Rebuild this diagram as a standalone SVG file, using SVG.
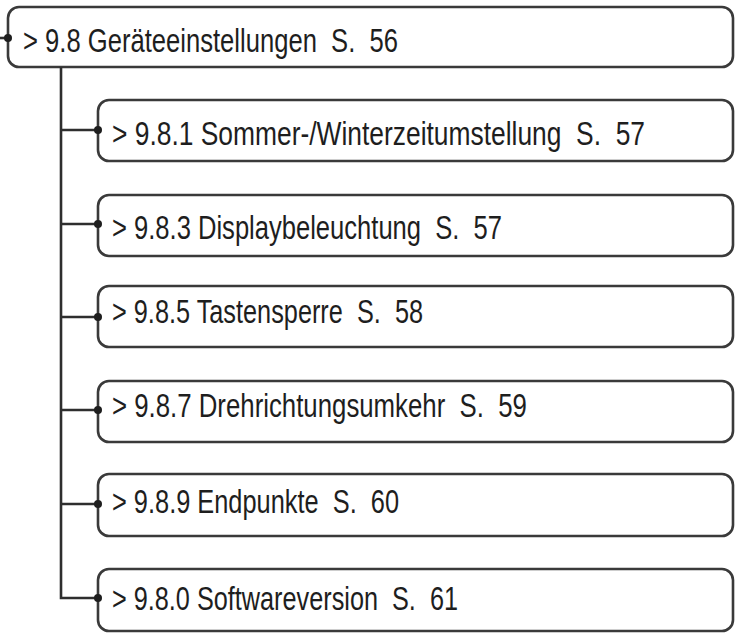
<svg xmlns="http://www.w3.org/2000/svg" width="740" height="634" viewBox="0 0 740 634">
<style>
.box{fill:#ffffff;stroke:#3a3a3a;stroke-width:2.6}
.lbl{font-family:"Liberation Sans","DejaVu Sans",sans-serif;font-size:33px;fill:#1e1e1e;white-space:pre}
.con{stroke:#2e2e2e;stroke-width:2.6;fill:none}
.dot{fill:#1e1e1e}
</style>
<rect width="740" height="634" fill="#ffffff"/>
<g id="n0">
<rect class="box" x="8" y="7" width="725" height="60" rx="11"/>
<text class="lbl" transform="translate(23,51.5) scale(0.75,1)" x="0" y="0" textLength="500" lengthAdjust="spacingAndGlyphs">&gt; 9.8 Geräteeinstellungen  S.  56</text>
</g>
<g id="n1">
<rect class="box" x="98" y="100" width="635" height="61" rx="11"/>
<text class="lbl" transform="translate(112,145) scale(0.75,1)" x="0" y="0" textLength="710.7" lengthAdjust="spacingAndGlyphs">&gt; 9.8.1 Sommer-/Winterzeitumstellung  S.  57</text>
</g>
<g id="n2">
<rect class="box" x="98" y="195" width="635" height="61" rx="11"/>
<text class="lbl" transform="translate(112,239) scale(0.75,1)" x="0" y="0" textLength="520" lengthAdjust="spacingAndGlyphs">&gt; 9.8.3 Displaybeleuchtung  S.  57</text>
</g>
<g id="n3">
<rect class="box" x="98" y="286" width="635" height="61" rx="11"/>
<text class="lbl" transform="translate(112,323) scale(0.75,1)" x="0" y="0" textLength="414.7" lengthAdjust="spacingAndGlyphs">&gt; 9.8.5 Tastensperre  S.  58</text>
</g>
<g id="n4">
<rect class="box" x="98" y="381" width="635" height="61" rx="11"/>
<text class="lbl" transform="translate(112,417) scale(0.75,1)" x="0" y="0" textLength="553.3" lengthAdjust="spacingAndGlyphs">&gt; 9.8.7 Drehrichtungsumkehr  S.  59</text>
</g>
<g id="n5">
<rect class="box" x="98" y="474" width="635" height="62" rx="11"/>
<text class="lbl" transform="translate(112,513) scale(0.75,1)" x="0" y="0" textLength="382.7" lengthAdjust="spacingAndGlyphs">&gt; 9.8.9 Endpunkte  S.  60</text>
</g>
<g id="n6">
<rect class="box" x="98" y="569" width="635" height="62" rx="11"/>
<text class="lbl" transform="translate(112,610) scale(0.75,1)" x="0" y="0" textLength="461.3" lengthAdjust="spacingAndGlyphs">&gt; 9.8.0 Softwareversion  S.  61</text>
</g>
<g id="connectors">
<line class="con" x1="0" y1="38" x2="8" y2="38"/>
<circle class="dot" cx="8" cy="38" r="4"/>
<polyline class="con" points="61,67 61,598 98,598"/>
<line class="con" x1="61" y1="130" x2="98" y2="130"/>
<line class="con" x1="61" y1="224" x2="98" y2="224"/>
<line class="con" x1="61" y1="317" x2="98" y2="317"/>
<line class="con" x1="61" y1="410" x2="98" y2="410"/>
<line class="con" x1="61" y1="504" x2="98" y2="504"/>
<circle class="dot" cx="98" cy="130" r="4"/>
<circle class="dot" cx="98" cy="224" r="4"/>
<circle class="dot" cx="98" cy="317" r="4"/>
<circle class="dot" cx="98" cy="410" r="4"/>
<circle class="dot" cx="98" cy="504" r="4"/>
<circle class="dot" cx="98" cy="598" r="4"/>
</g>
</svg>
